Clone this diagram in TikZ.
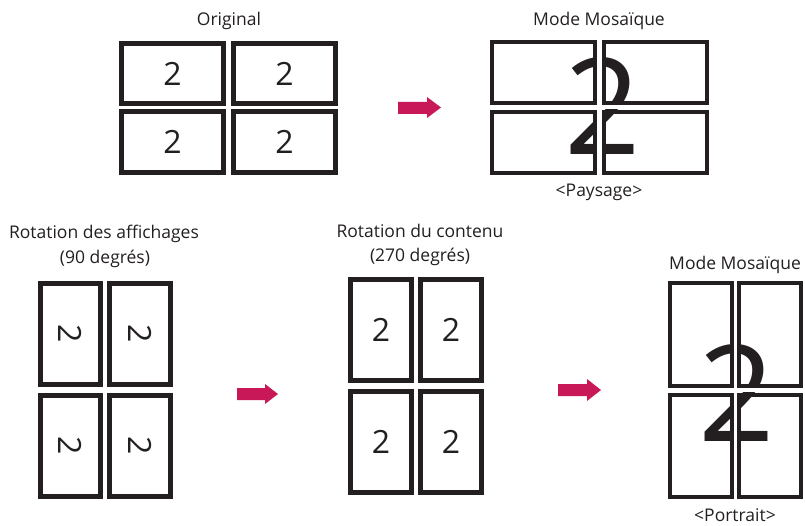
\documentclass[tikz,border=0pt]{standalone}
\usepackage{fontspec}
\setmainfont{Open Sans}
\definecolor{ink}{HTML}{231F20}
\definecolor{lgred}{RGB}{200,24,88}
\tikzset{
  lbl/.style={anchor=base, inner sep=0pt, text=ink, font=\fontsize{17.5}{20}\selectfont},
  digit/.style={text=ink, font=\fontsize{32}{32}\selectfont},
  scrwide/.style={draw=ink, line width=5pt, inner sep=0pt, minimum width=102pt, minimum height=60.5pt, digit},
  scrtall/.style={draw=ink, line width=5pt, inner sep=0pt, minimum width=60.5pt, minimum height=101pt, digit},
  mosw/.style={draw=ink, line width=4pt, inner sep=0pt, minimum width=103pt, minimum height=61pt},
  most/.style={draw=ink, line width=4pt, inner sep=0pt, minimum width=62pt, minimum height=102pt},
  big/.style={inner sep=0pt, text=ink, font=\fontsize{134}{134}\selectfont},
  gap/.style={fill=white},
  redarrow/.style={fill=lgred}
}
\begin{document}
\begin{tikzpicture}[x=1pt,y=-1pt]
\useasboundingbox (0,0) rectangle (805,526);

% ---------- Original ----------
\node[lbl] (tOrig) at (229,26) {Original};
\node[scrwide] (a11) at (172.5,73.5) {2};
\node[scrwide] (a12) at (284.5,73.5) {2};
\node[scrwide] (a21) at (172.5,142) {2};
\node[scrwide] (a22) at (284.5,142) {2};

% arrow 1
\fill[redarrow] (398,102) -- (427,102) -- (427,97) -- (441,107.5) -- (427,118) -- (427,114) -- (398,114) -- cycle;

% ---------- Mode Mosaique (Paysage) ----------
\node[lbl] (tMos1) at (599,26) {Mode Mosaïque};
\node[big] (big1) at (602.5,106) {2};
\fill[gap] (597,38) rectangle (602,179);
\fill[gap] (487,105) rectangle (711,109);
\node[mosw] (b11) at (543.5,73) {};
\node[mosw] (b12) at (655,73) {};
\node[mosw] (b21) at (543.5,142.5) {};
\node[mosw] (b22) at (655,142.5) {};
\node[lbl] (tPay) at (599,197) {<Paysage>};

% ---------- Rotation des affichages ----------
\node[lbl] (tRot1) at (104,239) {Rotation des affichages};
\node[lbl] (tRot1b) at (105,264) {(90 degrés)};
\node[scrtall] (c11) at (70.5,334) {};
\node[scrtall] (c12) at (140,334) {};
\node[scrtall] (c21) at (70.5,446) {};
\node[scrtall] (c22) at (140,446) {};
\node[digit, rotate=-90] at (c11.center) {2};
\node[digit, rotate=-90] at (c12.center) {2};
\node[digit, rotate=-90] at (c21.center) {2};
\node[digit, rotate=-90] at (c22.center) {2};

% arrow 2
\fill[redarrow] (237,388) -- (265,388) -- (265,384) -- (278,394) -- (265,404) -- (265,400) -- (237,400) -- cycle;

% ---------- Rotation du contenu ----------
\node[lbl] (tRot2) at (420,238) {Rotation du contenu};
\node[lbl] (tRot2b) at (420,262) {(270 degrés)};
\node[scrtall] (d11) at (381,330) {2};
\node[scrtall] (d12) at (451,330) {2};
\node[scrtall] (d21) at (381,441.5) {2};
\node[scrtall] (d22) at (451,441.5) {2};

% arrow 3
\fill[redarrow] (558,384) -- (587,384) -- (587,379) -- (601,390) -- (587,401) -- (587,396) -- (558,396) -- cycle;

% ---------- Mode Mosaique (Portrait) ----------
\node[lbl] (tMos2) at (735,270) {Mode Mosaïque};
\node[big] (big2) at (737,392.5) {2};
\fill[gap] (734,279) rectangle (737,502);
\fill[gap] (665,387) rectangle (805,392);
\node[most] (e11) at (701,334.5) {};
\node[most] (e12) at (770,334.5) {};
\node[most] (e21) at (701,445.5) {};
\node[most] (e22) at (770,445.5) {};
\node[lbl] (tPor) at (735,521) {<Portrait>};
\end{tikzpicture}
\end{document}
